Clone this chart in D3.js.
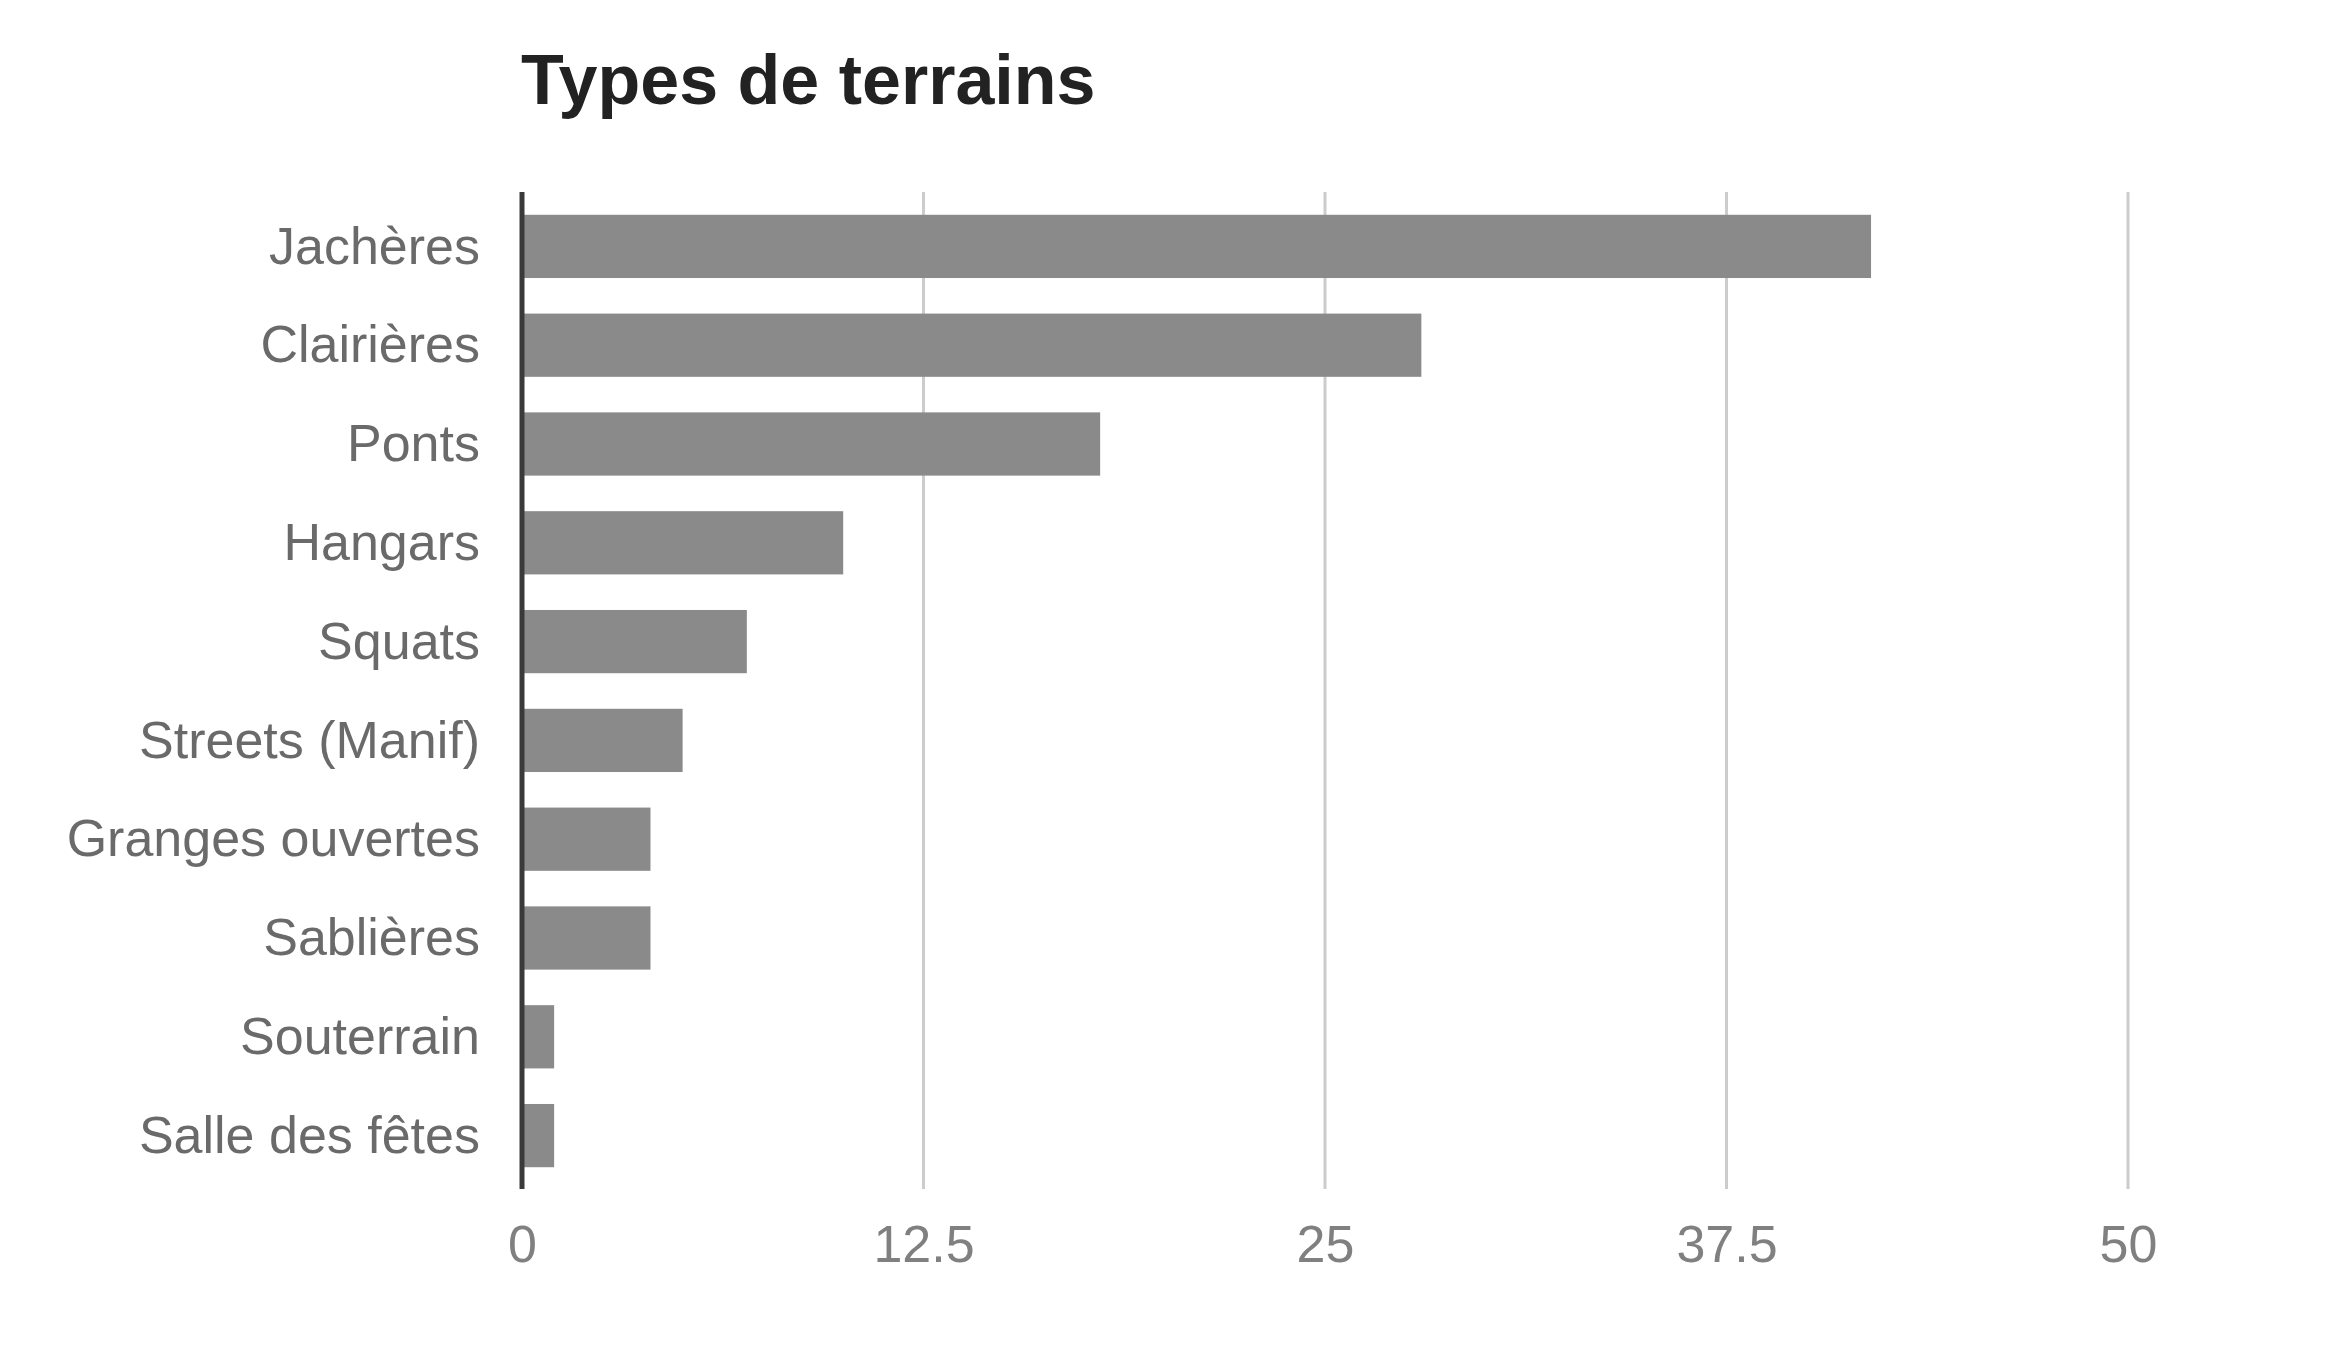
<!DOCTYPE html>
<html>
<head>
<meta charset="utf-8">
<script src="https://cdn.jsdelivr.net/npm/d3@7/dist/d3.min.js"></script>
<style>
  html, body { margin: 0; padding: 0; background: #ffffff; }
  svg { display: block; }
</style>
</head>
<body>
<script>
const title = "Types de terrains";
const categories = ["Jachères", "Clairières", "Ponts", "Hangars", "Squats", "Streets (Manif)", "Granges ouvertes", "Sablières", "Souterrain", "Salle des fêtes"];
const values = [42, 28, 18, 10, 7, 5, 4, 4, 1, 1];
const tickValues = [0, 12.5, 25, 37.5, 50];
const tickLabels = ["0", "12.5", "25", "37.5", "50"];

const W = 2349, H = 1364;
const svg = d3.select("body").append("svg").attr("width", W).attr("height", H);

const x = d3.scaleLinear().domain([0, 50]).range([522, 2128]);
const y = d3.scaleBand().domain(categories).range([197, 1185]).paddingInner(0.36).paddingOuter(0.18);
const plotTop = 192, plotBottom = 1189;

// gridlines
svg.append("g").selectAll("line").data(tickValues.slice(1)).join("line")
  .attr("x1", d => x(d)).attr("x2", d => x(d))
  .attr("y1", plotTop).attr("y2", plotBottom)
  .attr("stroke", "#cccccc").attr("stroke-width", 3);

// bars
svg.append("g").selectAll("rect").data(values).join("rect")
  .attr("x", x(0))
  .attr("y", (d, i) => y(categories[i]))
  .attr("width", d => x(d) - x(0))
  .attr("height", y.bandwidth())
  .attr("fill", "#8a8a8a");

// zero axis line
svg.append("line")
  .attr("x1", x(0)).attr("x2", x(0))
  .attr("y1", plotTop).attr("y2", plotBottom)
  .attr("stroke", "#3a3a3a").attr("stroke-width", 5);

// category labels via axis
const yAxis = svg.append("g").attr("transform", `translate(${x(0) - 42},0)`)
  .call(d3.axisLeft(y).tickSize(0).tickPadding(0));
yAxis.select(".domain").remove();
yAxis.selectAll("text")
  .attr("font-family", "Liberation Sans, Arial, sans-serif")
  .attr("font-size", 52)
  .attr("fill", "#6a6a6a")
  .attr("dy", "0.33em");

// x tick labels via axis
const xAxis = svg.append("g").attr("transform", `translate(0,1224)`)
  .call(d3.axisBottom(x).tickValues(tickValues).tickFormat((d, i) => tickLabels[i]).tickSize(0).tickPadding(0));
xAxis.select(".domain").remove();
xAxis.selectAll("text")
  .attr("font-family", "Liberation Sans, Arial, sans-serif")
  .attr("font-size", 52)
  .attr("fill", "#808080")
  .attr("dy", "0.74em");

// title
svg.append("text")
  .attr("x", 521).attr("y", 104)
  .attr("font-family", "Liberation Sans, Arial, sans-serif")
  .attr("font-weight", "bold")
  .attr("font-size", 70)
  .attr("fill", "#222222")
  .text(title);
</script>
</body>
</html>
